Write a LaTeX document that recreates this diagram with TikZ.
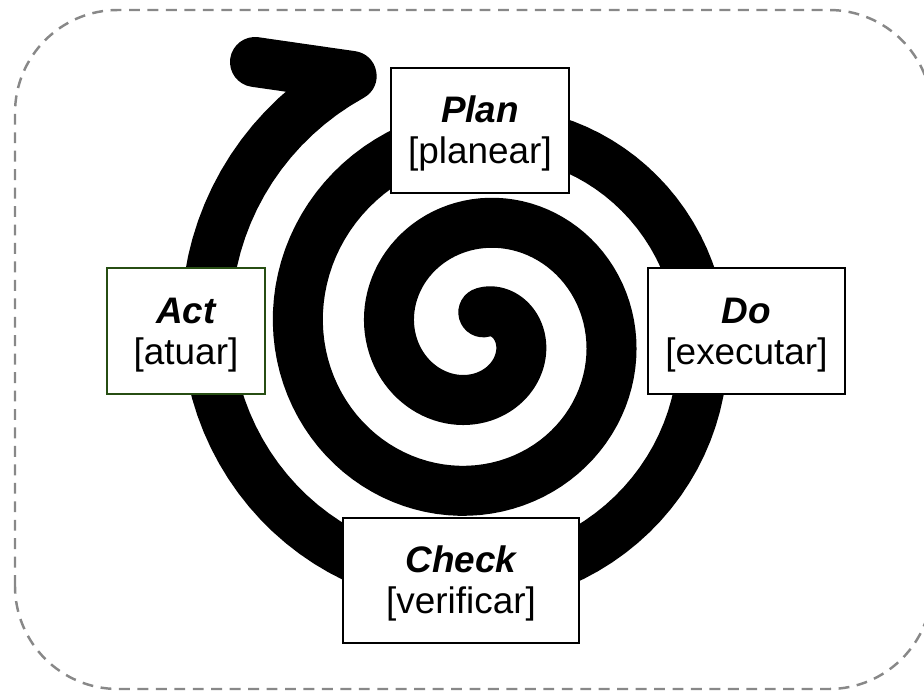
\documentclass[tikz,border=0pt]{standalone}
\usepackage{fontspec}
\setmainfont{Liberation Sans}
\usepackage{xcolor}
\usepackage{tikz}
\usetikzlibrary{positioning,calc}
\definecolor{actgreen}{RGB}{39,78,19}
\definecolor{framegray}{RGB}{136,136,136}
\newcommand{\stage}[2]{\rule{0pt}{0.9em}{\bfseries\itshape #1}\\ {[#2]}}

\tikzset{
    stagebox/.style={draw, line width=0.9pt, fill=white, inner sep=0pt,
        minimum height=2.5cm, align=center,
        font=\fontsize{21}{23.5}\selectfont},
    spiral/.style={line width=1cm, line cap=round, line join=round}
}

\begin{document}
\begin{tikzpicture}
    \useasboundingbox (0,0) rectangle (18.48,13.82);

    % Dashed frame
    \draw[framegray, line width=1.4pt, dash pattern=on 6.2pt off 4.3pt,
          rounded corners=2.06cm] (0.3,0.04) rectangle (18.64,13.62);

    % Spiral, outward and clockwise
    \coordinate (hub) at (9.55,7.14);
    \coordinate (barb) at (5.1,12.58);
    \draw[spiral, shift={(hub)}]
        plot[domain=-75:964, samples=300]
        ({(0.83+0.005096*\x)*cos(\x)}, {-(0.83+0.005096*\x)*sin(\x)})
        -- (barb);

    % The four steps
    \node[stagebox, minimum width=3.56cm] (plan) at (9.6,11.21) {\stage{Plan}{planear}};
    \node[stagebox, minimum width=3.94cm, minimum height=2.52cm] (do) at (14.93,7.2) {\stage{Do}{executar}};
    \node[stagebox, minimum width=4.72cm] (check) at (9.22,2.21) {\stage{Check}{verificar}};
    \node[stagebox, draw=actgreen, minimum width=3.16cm, minimum height=2.52cm] (act) at (3.72,7.2) {\stage{Act}{atuar}};
\end{tikzpicture}
\end{document}
